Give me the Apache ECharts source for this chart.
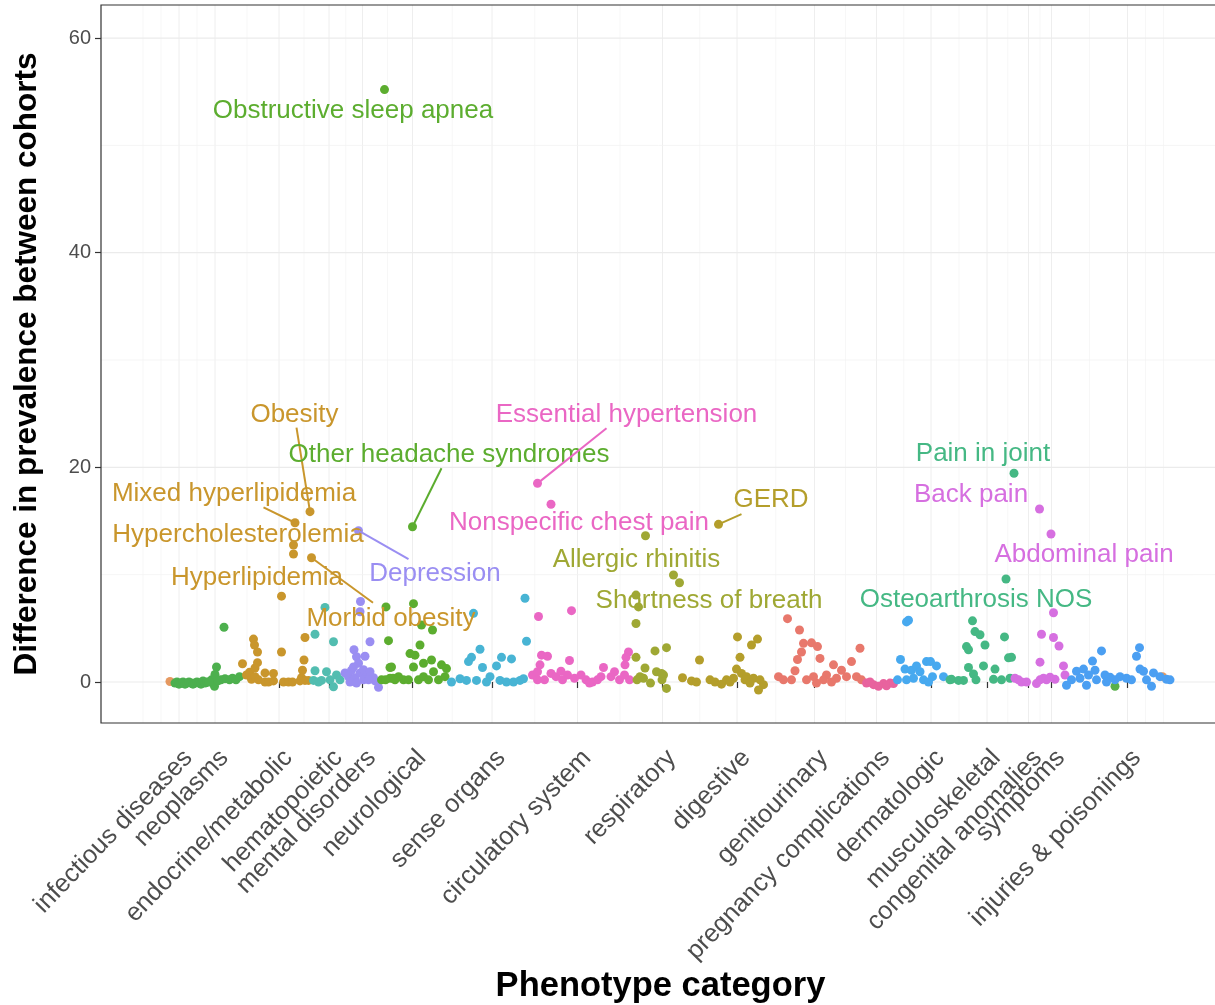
<!DOCTYPE html>
<html>
<head>
<meta charset="utf-8">
<title>Difference in prevalence between cohorts by phenotype category</title>
<script src="https://cdn.jsdelivr.net/npm/echarts@6/dist/echarts.min.js"></script>
<style>
  html, body { margin: 0; padding: 0; background: #ffffff; overflow: hidden; }
  #chart { width: 1215px; height: 1005px; }
</style>
</head>
<body>
<div id="chart"></div>
<script>
// Phenotype categories and where each sits along the phenotype order axis
const categories = ['infectious diseases', 'neoplasms', 'endocrine/metabolic', 'hematopoietic',
  'mental disorders', 'neurological', 'sense organs', 'circulatory system', 'respiratory',
  'digestive', 'genitourinary', 'pregnancy complications', 'dermatologic', 'musculoskeletal',
  'congenital anomalies', 'symptoms', 'injuries & poisonings'];
const categoryPos = [156, 228, 356, 456, 523, 623, 782, 953, 1123, 1272, 1427, 1551, 1660, 1772, 1855, 1901, 2053];
const categoryColors = ['#4caf4f', '#4db04e', '#c9962c', '#52bdb0', '#9a8ef2', '#5cad2f', '#48b4d4',
  '#ea67c4', '#9fa834', '#b49e2b', '#e8786c', '#e8639e', '#47a9ef', '#45b884', '#58b04a', '#d66fe0', '#4b9ff2'];
const yTicks = [0, 20, 40, 60];

// [phenotype order, difference in prevalence] per category
const infectious = [[148,-0.1],[152,0.0],[156,-0.2],[160,-0.1],[164,0.0],[168,-0.2],[172,-0.1],[176,0.0],[180,-0.1],
  [184,-0.2],[188,-0.1],[192,0.0],[196,-0.1],[200,-0.2],[204,0.1],[208,-0.1],[212,0.0]];
const neoplasms = [[221,0.2],[227,-0.4],[228,0.7],[231,1.4],[240,0.2],[246,5.1],[248,0.3],[257,0.2],[263,0.35],
  [270,0.2],[277,0.5],[234,0.1],[216,0.0]];
const endocrine = [[283,1.7],[291,0.65],[297,0.9],[301,0.25],[305,4.0],[307,3.45],[313,2.8],[313,1.8],[308,1.3],
  [308,0.5],[315,0.2],[328,0.85],[328,0.0],[335,0.0],[345,0.8],[345,0.1],[361,2.8],[365,0.0],[375,0.0],[383,0.0],
  [401,0.4],[403,1.1],[406,2.05],[408,4.15],[408,0.15],[415,0.15],[398,0.1],[385,11.93]];
const hematopoietic = [[428,4.45],[448,6.95],[465,3.75],[428,1.05],[451,0.95],[458,0.2],[465,-0.45],[471,0.65],
  [441,0.15],[435,0.0],[478,0.2],[425,0.15]];
const mental = [[519,7.5],[518,6.55],[538,3.75],[506,3.0],[511,2.35],[528,2.4],[515,1.75],[555,-0.5],[488,0.85],
  [495,0.5],[501,1.1],[508,0.4],[518,0.85],[525,1.15],[532,0.55],[538,0.95],[545,0.4],[548,0.1],[498,0.0],[525,0.2],
  [511,-0.1],[535,0.2],[505,1.4]];
const neurological = [[570,7.0],[575,3.85],[578,1.35],[581,1.4],[578,0.35],[561,0.2],[584,0.35],[625,7.3],[641,5.3],
  [663,4.85],[638,3.45],[618,2.65],[628,2.5],[661,2.05],[681,1.6],[645,1.75],[605,0.2],[625,1.4],[635,0.2],[645,0.5],
  [655,0.2],[665,0.95],[675,0.2],[688,0.5],[691,1.25],[595,0.5],[615,0.2],[588,0.2],[569,0.2]];
const senseOrgans = [[848,7.8],[745,6.4],[851,3.8],[758,3.05],[741,2.3],[735,1.9],[801,2.3],[821,2.15],[791,1.5],
  [763,1.35],[778,0.5],[701,0.0],[718,0.3],[731,0.15],[751,0.15],[771,0.0],[798,0.15],[811,0.0],[825,0.0],[838,0.15],[845,0.3]];
const circulatory = [[875,6.1],[941,6.65],[881,2.5],[893,2.4],[937,2.0],[878,1.6],[1005,1.35],[1055,2.8],[1050,2.3],
  [1048,1.6],[863,0.65],[873,0.95],[887,0.2],[900,0.8],[910,0.5],[923,0.2],[933,0.65],[947,0.35],[960,0.65],[970,0.2],
  [983,0.0],[993,0.2],[1020,0.5],[1027,0.95],[1037,0.2],[1047,0.65],[1057,0.2],[1000,0.5],[977,-0.1],[873,0.2],[920,1.0]];
const respiratory = [[1157,9.25],[1070,8.1],[1075,7.0],[1070,5.45],[1070,2.3],[1108,2.9],[1131,3.2],[1088,1.3],
  [1111,0.95],[1125,0.65],[1085,0.35],[1099,-0.1],[1131,-0.6],[1122,0.2],[1078,0.5],[1072,0.2],[1121,0.8]];
const digestive = [[1163,0.4],[1181,0.1],[1191,0.0],[1197,2.05],[1218,0.2],[1228,0.0],[1241,-0.2],[1273,4.2],[1278,2.3],
  [1301,3.45],[1313,4.0],[1271,1.2],[1265,0.35],[1281,0.8],[1291,0.5],[1305,0.35],[1318,0.2],[1325,-0.25],[1315,-0.75],
  [1251,0.2],[1258,0.0],[1288,0.2],[1298,-0.1]];
const genitourinary = [[1373,5.9],[1397,4.85],[1405,3.6],[1421,3.65],[1401,2.8],[1433,3.3],[1438,2.2],[1393,2.1],
  [1465,1.6],[1501,1.9],[1518,3.15],[1388,1.05],[1481,1.1],[1451,0.65],[1425,0.5],[1355,0.5],[1365,0.2],[1381,0.2],
  [1411,0.2],[1445,0.2],[1471,0.35],[1491,0.5],[1511,0.5],[1521,0.2],[1461,0.0],[1431,-0.1]];
const pregnancy = [[1531,-0.1],[1545,-0.25],[1555,-0.4],[1565,-0.15],[1578,-0.1],[1538,0.0],[1571,-0.35],[1585,-0.15]];
const dermatologic = [[1615,5.75],[1611,5.6],[1599,2.1],[1608,1.2],[1621,1.1],[1631,1.5],[1638,0.95],[1651,1.9],
  [1659,1.9],[1671,1.5],[1593,0.2],[1625,0.35],[1645,0.2],[1663,0.5],[1685,0.5],[1611,0.2],[1655,0.0]];
const musculoskeletal = [[1743,5.7],[1748,4.7],[1758,4.4],[1731,3.3],[1735,3.0],[1768,3.45],[1807,4.2],[1815,2.25],
  [1821,2.3],[1735,1.35],[1765,1.5],[1788,1.2],[1745,0.75],[1750,0.2],[1701,0.25],[1715,0.15],[1725,0.15],[1785,0.25],
  [1801,0.2],[1818,0.35],[1698,0.2]];
const congenital = [[2028,-0.4]];
const symptoms = [[1905,6.45],[1881,4.45],[1905,4.15],[1916,3.35],[1878,1.85],[1925,1.5],[1828,0.35],[1841,0.0],
  [1871,-0.15],[1885,0.35],[1891,0.2],[1908,0.25],[1928,0.65],[1835,0.2],[1851,0.0],[1878,0.2],[1898,0.45]];
const injuries = [[2001,2.9],[2077,3.2],[2071,2.4],[1983,1.95],[1965,1.2],[1988,1.1],[1951,1.0],[1975,0.65],[2008,0.65],
  [2018,0.45],[2038,0.5],[2051,0.35],[2078,1.2],[2085,1.0],[2105,0.85],[2118,0.5],[2131,0.25],[2138,0.2],[1931,-0.3],
  [1971,-0.3],[2101,-0.4],[1941,0.2],[1958,0.35],[1991,0.2],[2028,0.2],[2061,0.2],[2091,0.2],[2011,0.0]];
const uncategorized = [[138,0.05],[2123,0.5]];

const categoryPoints = [infectious, neoplasms, endocrine, hematopoietic, mental, neurological, senseOrgans,
  circulatory, respiratory, digestive, genitourinary, pregnancy, dermatologic, musculoskeletal, congenital,
  symptoms, injuries];

// Named phenotypes: text, category index, phenotype order, difference in prevalence
const annotText = ['Obstructive sleep apnea', 'Obesity', 'Mixed hyperlipidemia', 'Hypercholesterolemia',
  'Hyperlipidemia', 'Morbid obesity', 'Depression', 'Other headache syndromes', 'Essential hypertension',
  'Nonspecific chest pain', 'GERD', 'Allergic rhinitis', 'Shortness of breath', 'Pain in joint', 'Back pain',
  'Abdominal pain', 'Osteoarthrosis NOS'];
const annotCat = [5, 2, 2, 2, 2, 2, 4, 5, 7, 7, 9, 8, 8, 13, 15, 15, 13];
const annotX = [567, 418, 388, 385, 361, 421, 515, 623, 873, 900, 1235, 1089, 1145, 1826, 1877, 1900, 1810];
const annotY = [55.2, 15.87, 14.84, 12.76, 8.0, 11.58, 14.1, 14.47, 18.51, 16.56, 14.69, 13.63, 9.97, 19.45, 16.12, 13.79, 9.6];

// Repelled label placement (label centre) and leader-line end next to each label
const labelAt = [[504,53.2],[387,24.9],[266,17.5],[274,13.7],[312,9.69],[580,5.87],[668,10.06],[696,21.15],
  [1051,24.88],[956,14.81],[1340,16.96],[1071,11.37],[1216,7.55],[1764,21.24],[1740,17.42],[1966,11.83],[1750,7.64]];
const leaderFrom = [null,[391,23.7],[325,16.28],null,null,[544,7.39],[615,11.46],[681,19.91],
  [1011,23.64],null,[1281,15.65],null,null,null,null,null,null];

// the panel continues a little past the right edge of the page
const X_MIN = 0, X_MAX = 2238, Y_MIN = -3.82, Y_MAX = 63.08;
const FONT = '"Liberation Sans", Arial, Helvetica, sans-serif';

// Panel grid lines: majors at the breaks, minors halfway between (first spacing extended at both ends)
const gridLines = [];
(function () {
  const step = categoryPos[1] - categoryPos[0];
  const b = [categoryPos[0] - step].concat(categoryPos, [categoryPos[categoryPos.length - 1] + step]);
  for (let i = 0; i < b.length; i++) {
    gridLines.push({ axis: 'x', v: b[i], major: categoryPos.indexOf(b[i]) >= 0 });
    if (i < b.length - 1) gridLines.push({ axis: 'x', v: (b[i] + b[i + 1]) / 2, major: false });
  }
  [10, 30, 50].forEach(v => gridLines.push({ axis: 'y', v: v, major: false }));
  yTicks.forEach(v => gridLines.push({ axis: 'y', v: v, major: true }));
})();

const chart = echarts.init(document.getElementById('chart'), null, { renderer: 'canvas' });

const series = [];
series.push({
  type: 'custom',
  silent: true,
  z: 0,
  clip: true,
  data: gridLines.map(() => [X_MIN + 1, 0]),
  renderItem: function (params, api) {
    const g = gridLines[params.dataIndex];
    const cs = params.coordSys;
    let style;
    if (g.axis === 'x') {
      style = { stroke: g.major ? '#eeeeee' : '#f5f5f5', lineWidth: g.major ? 1 : 0.8 };
      const x = api.coord([g.v, 0])[0];
      return { type: 'line', shape: { x1: x, y1: cs.y, x2: x, y2: cs.y + cs.height }, style: style };
    }
    style = { stroke: g.major ? '#ebebeb' : '#f3f3f3', lineWidth: g.major ? 1.2 : 0.8 };
    const y = api.coord([0, g.v])[1];
    return { type: 'line', shape: { x1: cs.x, y1: y, x2: cs.x + cs.width, y2: y }, style: style };
  }
});

// panel frame
series.push({
  type: 'custom',
  silent: true,
  z: 6,
  clip: false,
  data: [[X_MIN + 1, 0]],
  renderItem: function (params) {
    const cs = params.coordSys;
    return { type: 'rect',
      shape: { x: cs.x, y: cs.y, width: cs.width, height: cs.height },
      style: { stroke: '#333333', lineWidth: 1.2, fill: null } };
  }
});

series.push({
  name: 'other', type: 'scatter', z: 2, symbolSize: 9,
  itemStyle: { color: '#e0803a' }, data: uncategorized
});

categories.forEach((name, ci) => {
  const pts = categoryPoints[ci].slice();
  annotCat.forEach((c, k) => { if (c === ci) pts.push([annotX[k], annotY[k]]); });
  series.push({
    name: name, type: 'scatter', z: 2, symbolSize: 9,
    itemStyle: { color: categoryColors[ci], opacity: 1 },
    data: pts
  });
});

series.push({
  type: 'custom',
  silent: true,
  z: 5,
  clip: false,
  data: annotText.map((t, k) => [annotX[k], annotY[k]]),
  renderItem: function (params, api) {
    const k = params.dataIndex;
    const color = categoryColors[annotCat[k]];
    const children = [];
    if (leaderFrom[k]) {
      const a = api.coord(leaderFrom[k]);
      const p = api.coord([annotX[k], annotY[k]]);
      children.push({ type: 'line', shape: { x1: a[0], y1: a[1], x2: p[0], y2: p[1] },
        style: { stroke: color, lineWidth: 2 } });
    }
    const c = api.coord(labelAt[k]);
    children.push({ type: 'text', x: c[0], y: c[1],
      style: { text: annotText[k], fill: color, font: '26px ' + FONT, align: 'center', verticalAlign: 'middle' } });
    return { type: 'group', children: children };
  }
});

chart.setOption({
  animation: false,
  backgroundColor: '#ffffff',
  grid: { left: 101, right: -5, top: 5, bottom: 282, show: false, outerBoundsMode: 'none', containLabel: false },
  xAxis: {
    type: 'value', min: X_MIN, max: X_MAX,
    axisLine: { show: false },
    splitLine: { show: false },
    axisTick: { show: true, customValues: categoryPos, length: 6, lineStyle: { color: '#333333', width: 1.2 } },
    axisLabel: {
      customValues: categoryPos, rotate: 46, margin: 22, fontSize: 25.5, color: '#4d4d4d', fontFamily: FONT,
      verticalAlign: 'top',
      formatter: v => categories[categoryPos.indexOf(v)] || ''
    },
    name: 'Phenotype category', nameLocation: 'middle', nameGap: 246, nameMoveOverlap: false,
    nameTextStyle: { fontSize: 34.5, fontWeight: 'bold', color: '#000000', fontFamily: FONT }
  },
  yAxis: {
    type: 'value', min: Y_MIN, max: Y_MAX,
    axisLine: { show: false },
    splitLine: { show: false },
    axisTick: { show: true, customValues: yTicks, length: 6, lineStyle: { color: '#333333', width: 1.2 } },
    axisLabel: { customValues: yTicks, margin: 10, fontSize: 20, color: '#4d4d4d', fontFamily: FONT },
    name: 'Difference in prevalence between cohorts', nameLocation: 'middle', nameGap: 58, nameRotate: 90,
    nameMoveOverlap: false,
    nameTextStyle: { fontSize: 31.5, fontWeight: 'bold', color: '#000000', fontFamily: FONT }
  },
  series: series
});
</script>
</body>
</html>
